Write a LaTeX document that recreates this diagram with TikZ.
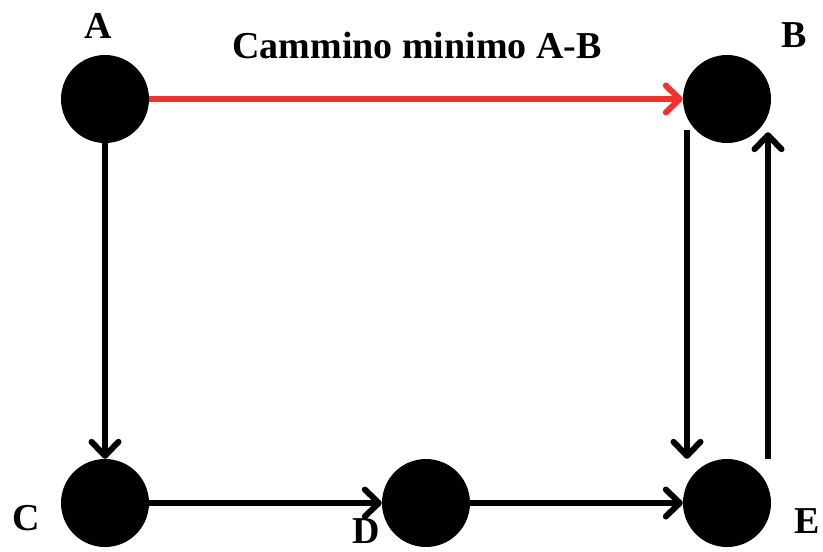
\documentclass[tikz,border=0pt]{standalone}
\usepackage{fontspec}
\setmainfont{Liberation Serif}
\usetikzlibrary{arrows.meta}
\begin{document}
\begin{tikzpicture}[x=1pt,y=-1pt,
  vertex/.style={circle,fill=black,minimum size=88pt,inner sep=0pt,draw=none},
  lbl/.style={anchor=base,font=\fontsize{38}{40}\selectfont\bfseries,inner sep=0pt},
  edge/.style={line width=6pt,-{Straight Barb[length=14pt,width=27pt,round]}},
  redge/.style={edge,draw={rgb,255:red,240;green,50;blue,50}}]
\useasboundingbox (0,0) rectangle (823,552);
\fill[white] (0,0) rectangle (823,552);
\node[vertex] (A) at (105,99) {};
\node[vertex] (B) at (727,99) {};
\node[vertex] (C) at (105,503) {};
\node[vertex] (D) at (426,503) {};
\node[vertex] (E) at (727,503) {};
\node[lbl] (la) at (98,38) {A};
\node[lbl] (lb) at (794,47) {B};
\node[lbl] (lc) at (26,530) {C};
\node[lbl] (ld) at (366,543) {D};
\node[lbl] (le) at (807,533) {E};
\node[lbl] (title) at (417,58) {Cammino minimo A-B};
\draw[redge] (A) -- (B);
\draw[edge] (A) -- (C);
\draw[edge] (C) -- (D);
\draw[edge] (D) -- (E);
\draw[edge] ([xshift=-40pt,yshift=13pt]B.south) -- ([xshift=-40pt]E.north);
\draw[edge] ([xshift=41pt]E.north) -- ([xshift=41pt,yshift=11pt]B.south);
\end{tikzpicture}
\end{document}
